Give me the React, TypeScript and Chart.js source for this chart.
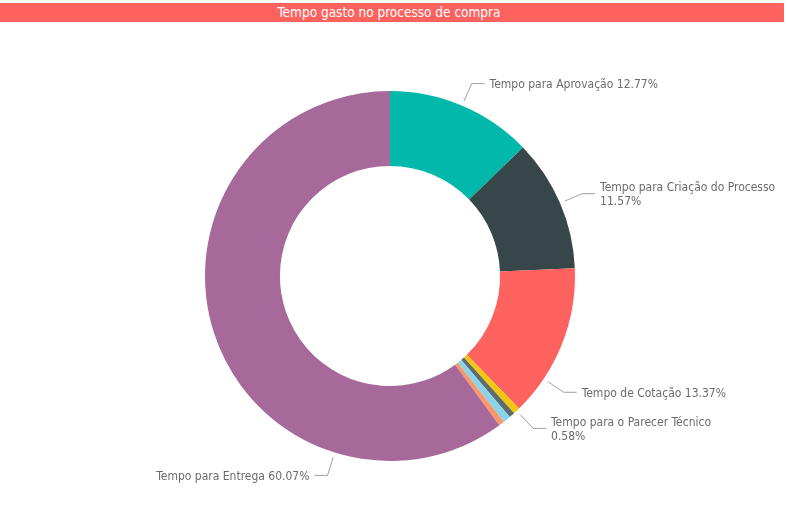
import React, { useEffect, useRef } from "react";
import { Chart, registerables } from "chart.js";

Chart.register(...registerables);

const TITLE = "Tempo gasto no processo de compra";

const categories = [
  "Tempo para Aprovação",
  "Tempo para Criação do Processo",
  "Tempo de Cotação",
  "Tempo para o Parecer Técnico",
  "Tempo para Emissão do Pedido",
  "Tempo para Recebimento",
  "Tempo para Conferência",
  "Tempo para Entrega",
];

const percentValues = [12.77, 11.57, 13.37, 0.58, 0.5, 0.66, 0.48, 60.07];

const sliceColors = [
  "#01B8AA",
  "#374649",
  "#FD625E",
  "#F2C80F",
  "#5F6B6D",
  "#8AD4EB",
  "#FE9666",
  "#A66999",
];

// which slices show an outside label (index -> anchor angle in degrees from top, null = slice middle)
const labelledSlices: Record<number, number | null> = {
  0: null,
  1: null,
  2: 123.8,
  3: null,
  7: 197.4,
};

const LABEL_FONT = "12px 'DejaVu Sans Condensed', Roboto, sans-serif";
const LABEL_COLOR = "#6B6B6B";
const LINE_COLOR = "#A0A0A0";

const outsideLabels = {
  id: "outsideLabels",
  afterDatasetsDraw(chart: any) {
    const ctx = chart.ctx as CanvasRenderingContext2D;
    const meta = chart.getDatasetMeta(0);
    const data = chart.data.datasets[0].data as number[];
    ctx.save();
    ctx.font = LABEL_FONT;
    Object.keys(labelledSlices).forEach((k) => {
      const i = Number(k);
      const arc = meta.data[i] as any;
      if (!arc) return;
      const { x, y, startAngle, endAngle, outerRadius } = arc.getProps(
        ["x", "y", "startAngle", "endAngle", "outerRadius"],
        true
      );
      const override = labelledSlices[i];
      const ang =
        override == null
          ? (startAngle + endAngle) / 2
          : (override * Math.PI) / 180 - Math.PI / 2;
      const cos = Math.cos(ang);
      const sin = Math.sin(ang);
      const r1 = outerRadius + 5;
      const r2 = outerRadius + 24;
      const ax = x + cos * r1;
      const ay = y + sin * r1;
      const ex = x + cos * r2;
      const ey = y + sin * r2;
      const right = cos >= 0;
      const hx = ex + (right ? 13 : -13);
      ctx.strokeStyle = LINE_COLOR;
      ctx.lineWidth = 1;
      ctx.beginPath();
      ctx.moveTo(ax, ay);
      ctx.lineTo(ex, ey);
      ctx.lineTo(hx, ey);
      ctx.stroke();

      const tx = hx + (right ? 5 : -5);
      const name = chart.data.labels[i] as string;
      const pct = data[i].toFixed(2) + "%";
      const full = name + " " + pct;
      let lines = [full];
      const w = ctx.measureText(full).width;
      if (right && tx + w > 740) lines = [name, pct];
      if (!right && tx - w < 20) lines = [name, pct];
      ctx.fillStyle = LABEL_COLOR;
      ctx.textAlign = right ? "left" : "right";
      ctx.textBaseline = "middle";
      const lh = 14;
      const y0 = ey + 1.5 - ((lines.length - 1) * lh) / 2;
      lines.forEach((ln, j) => ctx.fillText(ln, tx, y0 + j * lh));
    });
    ctx.restore();
  },
};

export default function App() {
  const canvasRef = useRef<HTMLCanvasElement | null>(null);

  useEffect(() => {
    document.body.style.margin = "0";
    const canvas = canvasRef.current;
    if (!canvas) return;
    const chart = new Chart(canvas, {
      type: "doughnut",
      data: {
        labels: categories,
        datasets: [
          {
            data: percentValues,
            backgroundColor: sliceColors,
            borderWidth: 0,
            hoverOffset: 0,
          },
        ],
      },
      options: {
        animation: false,
        responsive: false,
        maintainAspectRatio: false,
        cutout: "59.5%",
        layout: {
          padding: { left: 205, right: 213, top: 91, bottom: 71 },
        },
        plugins: {
          legend: { display: false },
          tooltip: { enabled: false },
          title: { display: false },
        },
      },
      plugins: [outsideLabels],
    });
    return () => chart.destroy();
  }, []);

  return (
    <div
      style={{
        position: "fixed",
        left: 0,
        top: 0,
        width: 788,
        height: 532,
        background: "#ffffff",
      }}
    >
      <div
        style={{
          position: "absolute",
          left: 0,
          top: 3,
          width: 784,
          height: 19,
          background: "#FD625E",
          color: "#ffffff",
          font: "13.5px 'Liberation Sans Narrow', 'DejaVu Sans Condensed', sans-serif",
          lineHeight: "19px",
          textAlign: "center",
          whiteSpace: "nowrap",
          paddingRight: 6,
          boxSizing: "border-box",
        }}
      >
        {TITLE}
      </div>
      <canvas
        ref={canvasRef}
        width={788}
        height={532}
        style={{ position: "absolute", left: 0, top: 0 }}
      />
    </div>
  );
}
